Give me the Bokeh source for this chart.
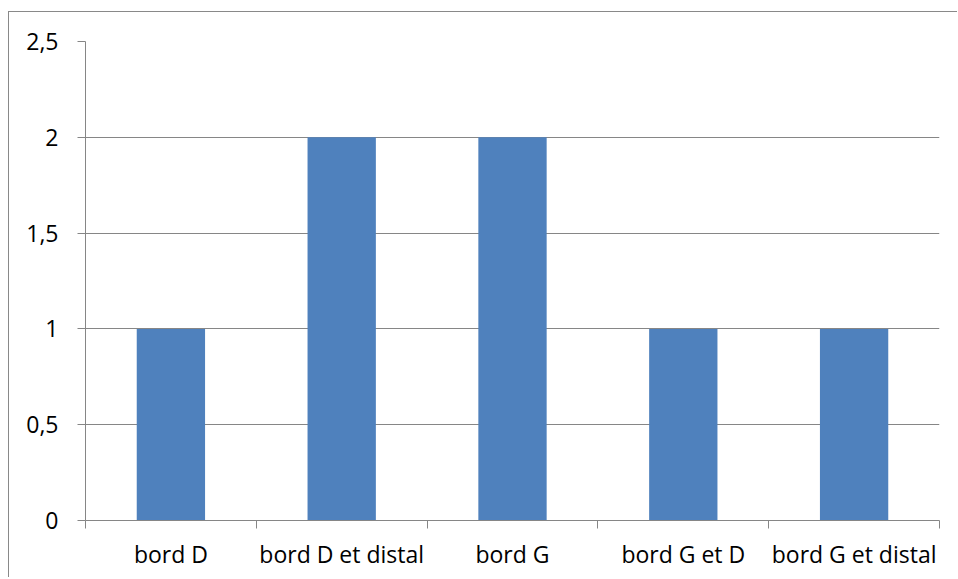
from bokeh.plotting import figure
from bokeh.models import Range1d, FixedTicker, CustomJSTickFormatter
from bokeh.embed import file_html
from bokeh.resources import INLINE

categories = ["bord D", "bord D et distal", "bord G", "bord G et D", "bord G et distal"]
values = [1, 2, 2, 1, 1]
y_ticks = [0, 0.5, 1, 1.5, 2, 2.5]

n = len(categories)
centers = [i + 0.5 for i in range(n)]

p = figure(width=949, height=566, output_backend="svg", toolbar_location=None,
           x_range=Range1d(0, n), y_range=Range1d(0, 2.5),
           min_border_left=76, min_border_right=19, min_border_top=29, min_border_bottom=58)
p.styles = {"border-left": "1px solid #898989", "border-top": "1px solid #898989",
            "margin-top": "11px", "margin-left": "8px"}
p.outline_line_color = None
p.background_fill_color = "white"
p.border_fill_color = "white"

p.vbar(x=centers, top=values, width=0.4, color="#4F81BD", line_color=None)

FONT = "Open Sans"
GRAY = "#868686"

# x axis
p.xaxis.ticker = FixedTicker(ticks=centers, minor_ticks=list(range(n + 1)))
p.xaxis.major_label_overrides = {c: lab for c, lab in zip(centers, categories)}
p.xaxis.major_tick_out = 0
p.xaxis.major_tick_in = 0
p.xaxis.minor_tick_out = 8
p.xaxis.minor_tick_in = 0
p.xaxis.minor_tick_line_color = GRAY
p.xaxis.axis_line_color = GRAY
p.xaxis.major_label_text_font = FONT
p.xaxis.major_label_text_font_size = "23px"
p.xaxis.major_label_text_color = "black"
p.xaxis.major_label_standoff = 9

# y axis
p.yaxis.ticker = FixedTicker(ticks=y_ticks)
p.yaxis.formatter = CustomJSTickFormatter(code="return tick.toString().replace('.', ',');")
p.yaxis.major_tick_out = 8
p.yaxis.major_tick_in = 0
p.yaxis.minor_tick_line_color = None
p.yaxis.major_tick_line_color = GRAY
p.yaxis.axis_line_color = GRAY
p.yaxis.major_label_text_font = FONT
p.yaxis.major_label_text_font_size = "23px"
p.yaxis.major_label_text_color = "black"
p.yaxis.major_label_standoff = 19

p.xgrid.grid_line_color = None
p.ygrid.ticker = FixedTicker(ticks=y_ticks)
p.ygrid.grid_line_color = GRAY
p.ygrid.grid_line_width = 1

open("out.html", "w").write(file_html(p, INLINE))
